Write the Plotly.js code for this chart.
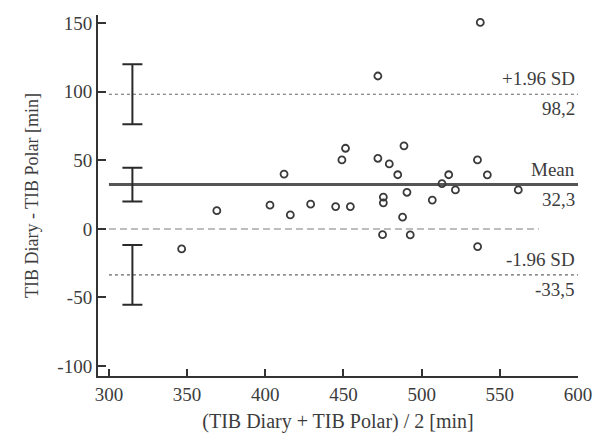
<!DOCTYPE html>
<html>
<head>
<meta charset="utf-8">
<script src="https://cdn.plot.ly/plotly-3.0.1.min.js"></script>
<style>html,body{margin:0;padding:0;background:#fff;}#chart{width:596px;height:439px;}</style>
</head>
<body>
<div id="chart"></div>
<script>
// Bland-Altman data: mean of methods (x) and difference (y)
const meanTIB = [346.5, 369, 403, 412, 416, 429, 445, 454.4, 449, 451.3, 472, 472, 475, 475.5, 475.5, 479.3, 484.7, 488.7, 487.8, 490.6, 492.7, 506.8, 513, 517.3, 521.6, 537.5, 535.7, 535.8, 542, 561.8];
const diffTIB = [-14.6, 13.3, 17.3, 40, 10.2, 18, 16.3, 16.3, 50.3, 58.8, 111.5, 51.5, -4.2, 23.2, 19, 47.4, 39.5, 60.6, 8.6, 26.7, -4.4, 21, 33, 39.5, 28.4, 150.6, 50.3, -12.9, 39.4, 28.4];

// Limits of agreement and their confidence intervals
const statNames = ["+1.96 SD", "Mean", "-1.96 SD"];
const statValues = [98.2, 32.3, -33.5];
const statLabels = ["98,2", "32,3", "-33,5"];
const ciHalfWidth = [21.8, 12.3, 21.8];
const ciX = 315;
const lineXStart = 300, lineXEnd = 600;
const zeroLineX = [300, 575];
const zeroLineY = [0, 0];

const xTicks = [300, 350, 400, 450, 500, 550, 600];
const xTickText = ["300", "350", "400", "450", "500", "550", "600"];
const yTicks = [-100, -50, 0, 50, 100, 150];
const yTickText = ["-100", "-50", "0", "50", "100", "150"];

const font = "Liberation Serif, Times New Roman, serif";
const txt = "#3c3c3c";

const traces = [];
traces.push({x: zeroLineX, y: zeroLineY, mode: "lines", line: {color: "#bdbdbd", width: 2, dash: "7px,4px"}, hoverinfo: "skip"});
statValues.forEach((v, i) => {
  traces.push({
    x: [lineXStart, lineXEnd], y: [v, v], mode: "lines",
    line: i === 1 ? {color: "#555", width: 3} : {color: "#666", width: 1.2, dash: "dot"},
    hoverinfo: "skip"
  });
});
traces.push({
  x: statValues.map(() => ciX), y: statValues, mode: "markers",
  marker: {size: 1, color: "rgba(0,0,0,0)"},
  error_y: {type: "data", array: ciHalfWidth, visible: true, color: "#2a2a2a", thickness: 2, width: 10}
});
traces.push({
  x: meanTIB, y: diffTIB, mode: "markers",
  marker: {symbol: "circle-open", size: 7, color: "#3a3a3a", line: {width: 1.8, color: "#3a3a3a"}}
});

const annotations = [];
statValues.forEach((v, i) => {
  annotations.push({x: lineXEnd, y: v, xref: "x", yref: "y", text: statNames[i], showarrow: false,
    xanchor: "right", yanchor: "bottom", xshift: -1, yshift: 3, font: {family: font, size: 19, color: txt}});
  annotations.push({x: lineXEnd, y: v, xref: "x", yref: "y", text: statLabels[i], showarrow: false,
    xanchor: "right", yanchor: "top", xshift: -1, yshift: -2, font: {family: font, size: 19, color: txt}});
});

const layout = {
  width: 596, height: 439,
  margin: {l: 98, r: 18, t: 15, b: 63},
  paper_bgcolor: "#fff", plot_bgcolor: "#fff",
  showlegend: false,
  font: {family: font, size: 18, color: txt},
  xaxis: {
    range: [293, 600], tickvals: xTicks, ticktext: xTickText, ticks: "inside", ticklen: 7, tickwidth: 2, tickcolor: "#333",
    showline: true, linecolor: "#333", linewidth: 2, showgrid: false, zeroline: false,
    tickfont: {family: font, size: 19, color: txt},
    title: {text: "(TIB Diary + TIB Polar) / 2 [min]", font: {family: font, size: 20, color: txt}, standoff: 10}
  },
  yaxis: {
    range: [-107.3, 156], tickvals: yTicks, ticktext: yTickText, ticks: "inside", ticklen: 8, tickwidth: 2, tickcolor: "#333",
    showline: true, linecolor: "#333", linewidth: 2, showgrid: false, zeroline: false,
    tickfont: {family: font, size: 19, color: txt},
    title: {text: "TIB Diary - TIB Polar [min]", font: {family: font, size: 18, color: txt}, standoff: 14}
  },
  annotations: annotations
};

Plotly.newPlot("chart", traces, layout, {staticPlot: true, displayModeBar: false});
</script>
</body>
</html>
